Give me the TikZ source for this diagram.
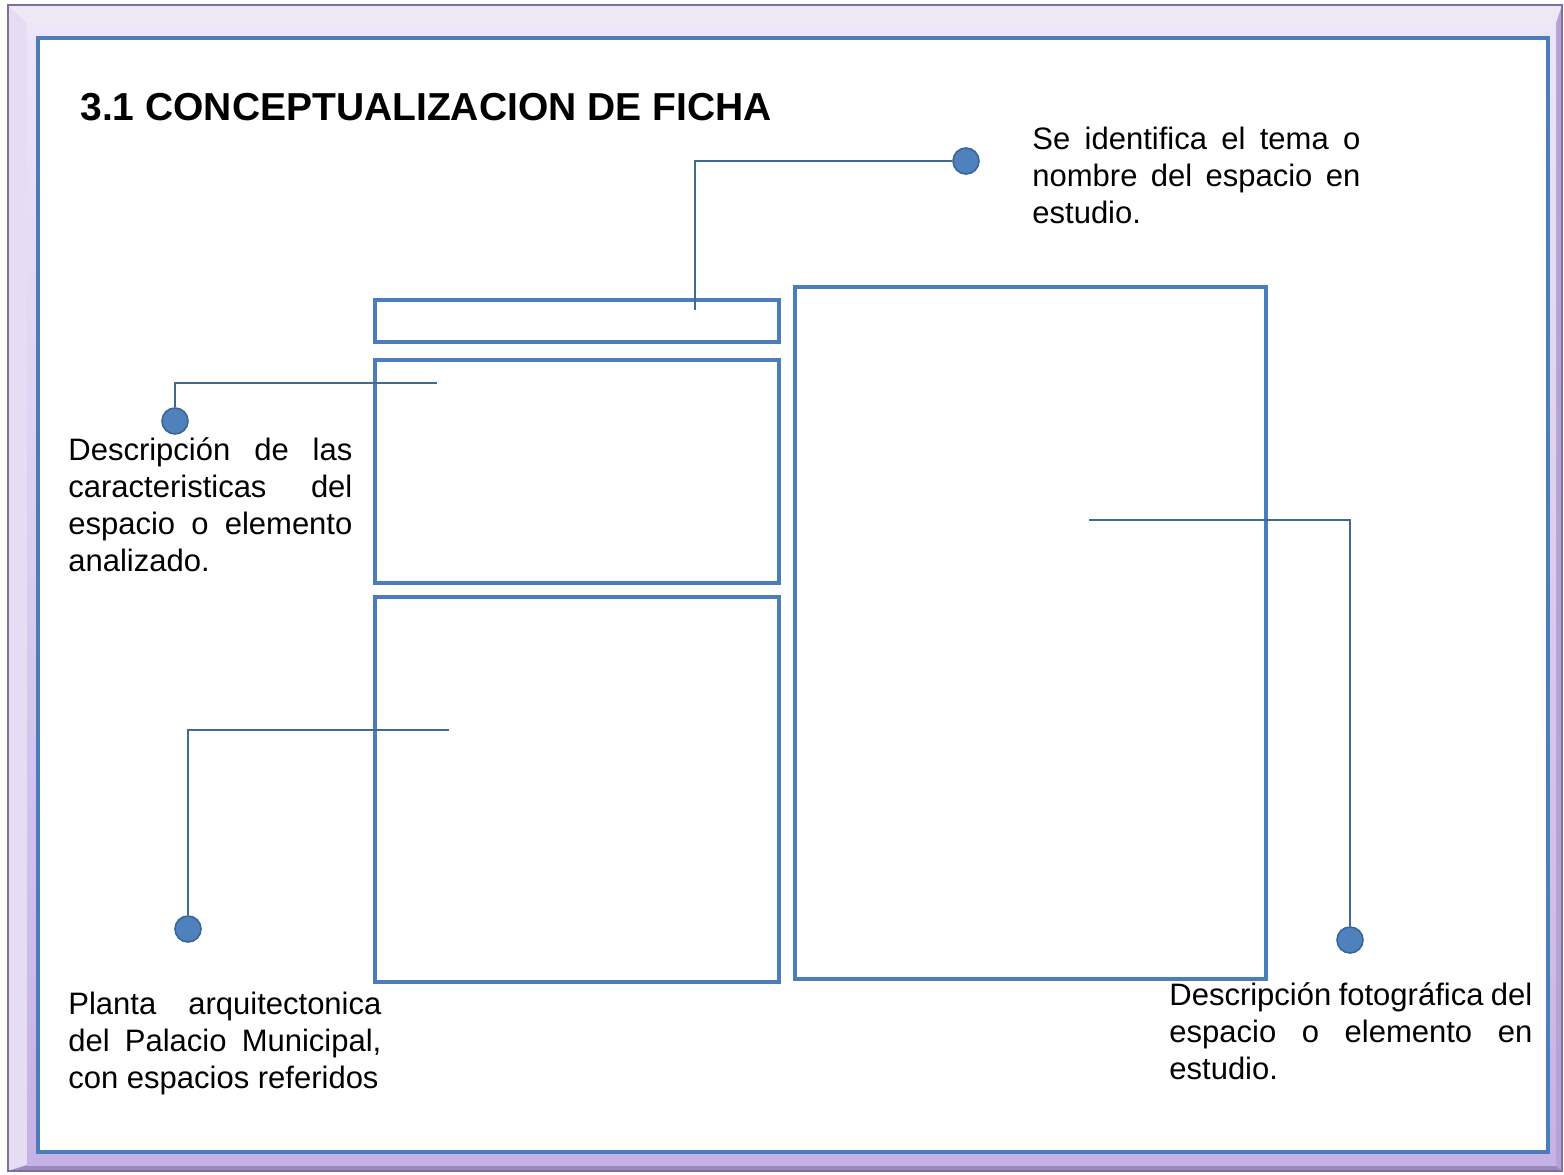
\documentclass[tikz,border=0pt]{standalone}
\usepackage{fontspec}
\setmainfont{Liberation Sans}
\newcommand\jline[2]{\makebox[#1][s]{#2}}
\begin{document}
\begin{tikzpicture}[x=0.5pt,y=-0.5pt,
  boxst/.style={draw=boxblue,line width=2.2pt},
  dotst/.style={circle,fill=dotblue,draw=dotedge,line width=0.8pt,minimum size=13pt,inner sep=0pt},
  linkst/.style={draw=linkc,line width=0.9pt},
  txt/.style={anchor=north west,inner sep=0pt,align=left,font=\fontsize{15.5}{18.5}\selectfont}]
\definecolor{boxblue}{HTML}{4A7DBA}
\definecolor{dotblue}{HTML}{4F81BD}
\definecolor{dotedge}{HTML}{3A6598}
\definecolor{linkc}{HTML}{44698F}
\definecolor{bevTop}{HTML}{EEE8F7}
\definecolor{bevLeft}{HTML}{E6DDF4}
\definecolor{bevRight}{HTML}{B6A3D4}
\definecolor{bevBot}{HTML}{9C8ABC}
\definecolor{bandA}{HTML}{EDE6F8}
\definecolor{bandB}{HTML}{C6B2E5}
\definecolor{frameline}{HTML}{7F6FA0}
\useasboundingbox (0,0) rectangle (1564,1174);
\fill[white] (0,0) rectangle (1564,1174);
% bevel frame
\fill[bevTop] (8,5) -- (1562,5) -- (1556,23) -- (27,23) -- cycle;
\fill[bevLeft] (8,5) -- (27,23) -- (27,1165) -- (8,1171) -- cycle;
\fill[bevRight] (1562,5) -- (1562,1171) -- (1556,1165) -- (1556,23) -- cycle;
\fill[bevBot] (8,1171) -- (1562,1171) -- (1556,1165) -- (27,1165) -- cycle;
\shade[top color=bandA,bottom color=bandB] (27,23) rectangle (1556,1165);
\draw[frameline,line width=0.6pt] (8,5) rectangle (1562,1171);
\draw[fill=white,draw=boxblue,line width=2pt] (38,38) rectangle (1548,1152);
% title
\node[anchor=base west,inner sep=0pt,font=\fontsize{19.5}{22}\selectfont\bfseries] (title) at (80,120) {3.1 CONCEPTUALIZACION DE FICHA};
% boxes
\node[boxst,minimum width=202pt,minimum height=21pt,inner sep=0pt,anchor=north west] (bname) at (373,298) {};
\node[boxst,minimum width=202pt,minimum height=111.5pt,inner sep=0pt,anchor=north west] (bdesc) at (373,358) {};
\node[boxst,minimum width=202pt,minimum height=192.5pt,inner sep=0pt,anchor=north west] (bplan) at (373,595) {};
\node[boxst,minimum width=235.5pt,minimum height=346pt,inner sep=0pt,anchor=north west] (bfoto) at (793,285) {};
% dots
\node[dotst] (d1) at (966,161) {};
\node[dotst] (d2) at (175,421) {};
\node[dotst] (d3) at (188,929) {};
\node[dotst] (d4) at (1350,940) {};
% connector ends
\coordinate (e1) at (695,310);
\coordinate (e2) at (437,383);
\coordinate (e3) at (449,730);
\coordinate (e4) at (1089,520);
\draw[linkst] (e1) |- (d1);
\draw[linkst] (d2) |- (e2);
\draw[linkst] (d3) |- (e3);
\draw[linkst] (e4) -| (d4);
% texts
\node[txt] (t1) at (1032,127) {\jline{164pt}{Se identifica el tema o}\\\jline{164pt}{nombre del espacio en}\\estudio.};
\node[txt] (t2) at (68,437) {\jline{142pt}{Descripción de las}\\\jline{142pt}{caracteristicas del}\\\jline{142pt}{espacio o elemento}\\analizado.};
\node[txt] (t3) at (68,992) {\jline{156.5pt}{Planta arquitectonica}\\\jline{156.5pt}{del Palacio Municipal,}\\con espacios referidos};
\node[txt] (t4) at (1169,982) {\jline{181.5pt}{Descripción fotográfica del}\\\jline{181.5pt}{espacio o elemento en}\\estudio.};
\end{tikzpicture}
\end{document}
